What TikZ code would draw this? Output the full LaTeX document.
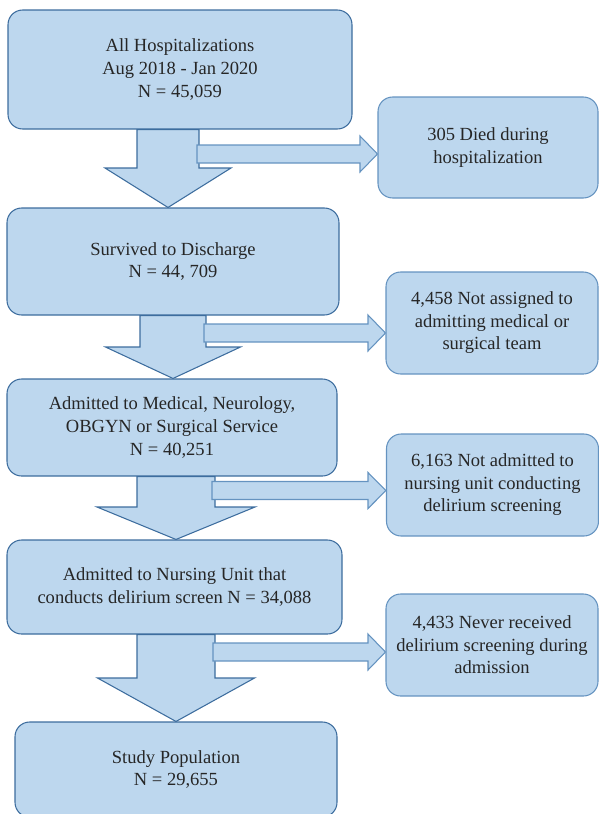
\documentclass[tikz,border=0pt]{standalone}
\usepackage{fontspec}
\setmainfont{Liberation Serif}
\usepackage{xcolor}
\usetikzlibrary{calc, positioning}

\definecolor{boxfill}{HTML}{BDD7EE}
\definecolor{boxline}{HTML}{3D6D9E}
\definecolor{sideline}{HTML}{6593C0}
\definecolor{txt}{HTML}{262626}

% down block arrow: from, to, centre x, shaft half width, head half width, head y
\newcommand{\bigdown}[6]{
    \draw[downarr] (#1.south -| #3-#4,0) -- (#3-#4,#6) -- (#3-#5,#6) -- (#2.north -| #3,0)
        -- (#3+#5,#6) -- (#3+#4,#6) -- (#1.south -| #3+#4,0) -- cycle;
}
% side block arrow: to, start x, centre y, head x
\newcommand{\sidearrow}[4]{
    \draw[sidearr] (#2,#3-9) -- (#4,#3-9) -- (#4,#3-18) -- (#1.west |- 0,#3)
        -- (#4,#3+18) -- (#4,#3+9) -- (#2,#3+9) -- cycle;
}

\begin{document}
\begin{tikzpicture}[x=0.75pt, y=-0.75pt,
    every node/.style={font=\fontsize{13.9pt}{16.9pt}\selectfont, text=txt, align=center},
    mainbox/.style={draw=boxline, fill=boxfill, line width=0.8pt, rounded corners=11pt},
    sidebox/.style={draw=sideline, fill=boxfill, line width=0.8pt, rounded corners=11pt,
        minimum width=159pt, minimum height=76.5pt},
    downarr/.style={draw=boxline, fill=boxfill, line width=0.8pt, line join=miter},
    sidearr/.style={draw=sideline, fill=boxfill, line width=0.8pt, line join=miter}]
    \useasboundingbox (0,0) rectangle (599,814);

    % main column
    \node[mainbox, minimum width=258pt, minimum height=89.25pt] (all) at (180,69.5)
        {All Hospitalizations\\Aug 2018 - Jan 2020\\N = 45,059};
    \node[mainbox, minimum width=249pt, minimum height=80.25pt] (surv) at (173,261.5)
        {Survived to Discharge\\N = 44, 709};
    \node[mainbox, minimum width=247.5pt, minimum height=72.75pt] (serv) at (172,427.5)
        {Admitted to Medical, Neurology,\\OBGYN or Surgical Service\\N = 40,251};
    \node[mainbox, minimum width=251.25pt, minimum height=70.5pt] (unit) at (174.5,587)
        {Admitted to Nursing Unit that\\conducts delirium screen N = 34,088};
    \node[mainbox, minimum width=241.5pt, minimum height=71.25pt] (study) at (176,769.5)
        {Study Population\\N = 29,655};

    % exclusions
    \node[sidebox, minimum width=165pt, minimum height=75.75pt] (died) at (488,147.5)
        {305 Died during\\hospitalization};
    \node[sidebox] (team) at (492,323)
        {4,458 Not assigned to\\admitting medical or\\surgical team};
    \node[sidebox] (nounit) at (492.5,485)
        {6,163 Not admitted to\\nursing unit conducting\\delirium screening};
    \node[sidebox] (never) at (492,645)
        {4,433 Never received\\delirium screening during\\admission};

    % arrows
    \bigdown{all}{surv}{168}{31}{63}{168}
    \bigdown{surv}{serv}{173}{33}{67.5}{347}
    \bigdown{serv}{unit}{176}{39}{79}{507}
    \bigdown{unit}{study}{176}{39}{78.5}{678}

    \sidearrow{died}{197}{154}{360}
    \sidearrow{team}{204}{333}{368}
    \sidearrow{nounit}{212}{490.5}{368}
    \sidearrow{never}{213}{652}{368}
\end{tikzpicture}
\end{document}
